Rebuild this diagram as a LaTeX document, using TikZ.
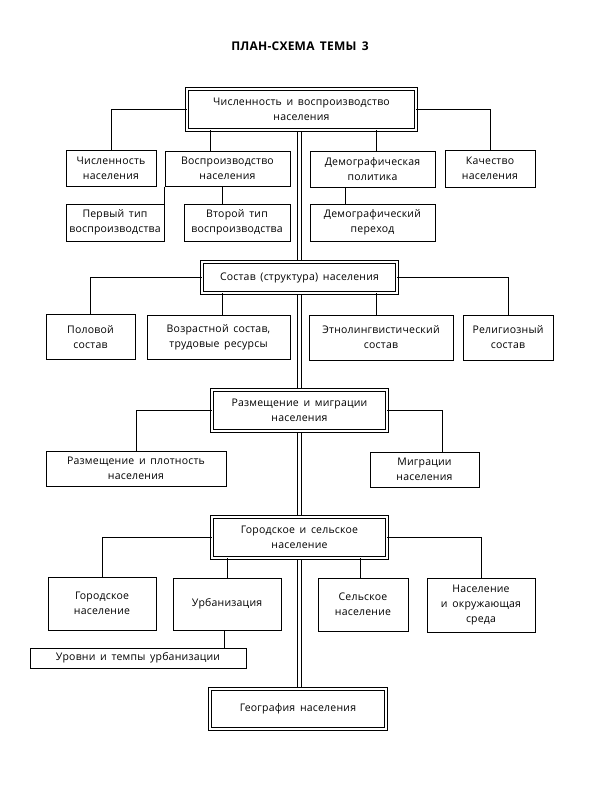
\documentclass[tikz,border=0pt]{standalone}
\usepackage{fontspec}
\setmainfont{Open Sans}[LetterSpace=2, WordSpace=1.6]
\usetikzlibrary{backgrounds}
\begin{document}
\begin{tikzpicture}[x=1pt,y=-1pt,
  box/.style={draw, line width=1pt, fill=white, align=center, inner sep=1pt,
    font=\fontsize{10.5}{15}\selectfont},
  mainbox/.style={box, double, double distance=2.6pt, line width=0.9pt},
  conn/.style={line width=0.9pt},
  trunkline/.style={line width=1pt}]
\useasboundingbox (0,0) rectangle (600,800);
\node (title) at (300,46) {\fontsize{12}{14}\selectfont\bfseries ПЛАН-СХЕМА ТЕМЫ 3};
% main boxes
\node[mainbox, minimum width=229pt, minimum height=41pt] (A) at (301.5,109.5) {Численность и воспроизводство\\населения};
\node[mainbox, minimum width=195pt, minimum height=31pt] (B) at (299.5,277.5) {Состав (структура) населения};
\node[mainbox, minimum width=175pt, minimum height=41pt] (C) at (299.5,410.5) {Размещение и миграции\\населения};
\node[mainbox, minimum width=175pt, minimum height=41pt] (D) at (299.5,537.5) {Городское и сельское\\население};
\node[mainbox, minimum width=176pt, minimum height=40pt] (E) at (298,709) {География населения};
% level 1
\node[box, minimum width=90pt, minimum height=36pt] (n1) at (111,168) {Численность\\населения};
\node[box, minimum width=125pt, minimum height=35pt] (n2) at (227.5,168.5) {Воспроизводство\\населения};
\node[box, minimum width=125pt, minimum height=36pt] (n3) at (372.5,169) {Демографическая\\политика};
\node[box, minimum width=90pt, minimum height=37pt] (n4) at (490,168.5) {Качество\\населения};
\node[box, minimum width=98pt, minimum height=37pt] (n5) at (115,222.5) {Первый тип\\воспроизводства};
\node[box, minimum width=106pt, minimum height=37pt] (n6) at (237,222.5) {Второй тип\\воспроизводства};
\node[box, minimum width=125pt, minimum height=37pt] (n7) at (372.5,222.5) {Демографический\\переход};
% level 2
\node[box, minimum width=89pt, minimum height=45pt] (m1) at (90.5,337) {Половой\\состав};
\node[box, minimum width=143pt, minimum height=44pt] (m2) at (218.5,337) {Возрастной состав,\\трудовые ресурсы};
\node[box, minimum width=144pt, minimum height=45pt] (m3) at (381,337.5) {Этнолингвистический\\состав};
\node[box, minimum width=90pt, minimum height=45pt] (m4) at (508,337.5) {Религиозный\\состав};
% level 3
\node[box, minimum width=180pt, minimum height=35pt] (p1) at (136,468.5) {Размещение и плотность\\населения};
\node[box, minimum width=109pt, minimum height=35pt] (p2) at (424.5,469.5) {Миграции\\населения};
% level 4
\node[box, minimum width=108pt, minimum height=53pt] (q1) at (102,603.5) {Городское\\население};
\node[box, minimum width=108pt, minimum height=52pt] (q2) at (227,604) {Урбанизация};
\node[box, minimum width=90pt, minimum height=53pt] (q3) at (363,604.5) {Сельское\\население};
\node[box, minimum width=108pt, minimum height=54pt] (q4) at (481,605) {Население\\и окружающая\\среда};
\node[box, minimum width=216pt, minimum height=20pt] (q5) at (138,658) {Уровни и темпы урбанизации};
% trunk (double line)
\coordinate (tx1) at (297,0);
\coordinate (tx2) at (301.5,0);
\begin{scope}[on background layer]
\draw[trunkline] (A.south -| tx1) -- (E.north -| tx1);
\draw[trunkline] (A.south -| tx2) -- (E.north -| tx2);
\end{scope}
% connectors
\draw[conn] (A.west) -| (n1.north);
\draw[conn] (n2.north) ++(-17.5,0) coordinate (t1) -- (t1 |- A.south);
\draw[conn] (n3.north) ++(3.5,0) coordinate (t2) -- (t2 |- A.south);
\draw[conn] (A.east) -| (n4.north);
\draw[conn] (n2.south west) -- (n2.south west |- n5.north);
\draw[conn] (n6.north) ++(-15,0) coordinate (t3) -- (t3 |- n2.south);
\draw[conn] (n3.south) ++(-27.5,0) coordinate (t4) -- (t4 |- n7.north);
\draw[conn] (B.west) -| (m1.north);
\draw[conn] (m2.north) ++(3.5,0) coordinate (t5) -- (t5 |- B.south);
\draw[conn] (m3.north) ++(-5,0) coordinate (t6) -- (t6 |- B.south);
\draw[conn] (B.east) -| (m4.north);
\draw[conn] (C.west) -| (p1.north);
\draw[conn] (p2.north) ++(17.5,0) coordinate (t7) |- (C.east);
\draw[conn] (D.west) -| (q1.north);
\draw[conn] (q2.north) -- (q2.north |- D.south);
\draw[conn] (q3.north) ++(-3,0) coordinate (t9) -- (t9 |- D.south);
\draw[conn] (D.east) -| (q4.north);
\draw[conn] (q2.south) ++(-3,0) coordinate (t8) -- (t8 |- q5.north);
\end{tikzpicture}
\end{document}
